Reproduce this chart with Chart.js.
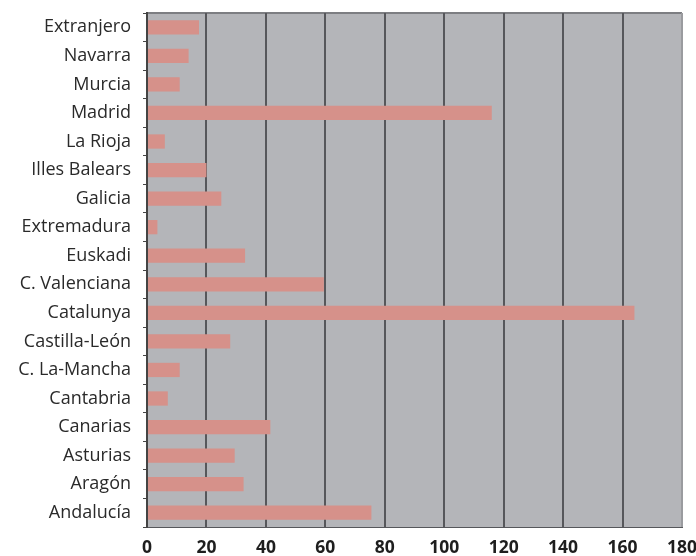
<!DOCTYPE html>
<html>
<head>
<meta charset="utf-8">
<script src="https://cdn.jsdelivr.net/npm/chart.js@4"></script>
<style>
html,body{margin:0;padding:0;background:#fff;}
#wrap{width:696px;height:556px;}
</style>
</head>
<body>
<div id="wrap"><canvas id="c" width="696" height="556"></canvas></div>
<script>
const categories = ["Extranjero","Navarra","Murcia","Madrid","La Rioja","Illes Balears","Galicia","Extremadura","Euskadi","C. Valenciana","Catalunya","Castilla-León","C. La-Mancha","Cantabria","Canarias","Asturias","Aragón","Andalucía"];
const values = [17.5,14,11,116,6,20,25,3.5,33,59.5,164,28,11,7,41.5,29.5,32.5,75.5];
const xMin = 0, xMax = 180, xStep = 20;

const bgPlugin = {
  id: 'plotBg',
  beforeDraw(chart) {
    const {ctx, chartArea: a} = chart;
    ctx.save();
    ctx.fillStyle = '#b4b5b9';
    ctx.fillRect(a.left, a.top, a.right - a.left, a.bottom - a.top);
    ctx.strokeStyle = '#7d7e82';
    ctx.lineWidth = 2;
    ctx.beginPath();
    ctx.moveTo(a.left, a.top);
    ctx.lineTo(a.right, a.top);
    ctx.stroke();
    ctx.restore();
  }
};

new Chart(document.getElementById('c'), {
  type: 'bar',
  data: {
    labels: categories,
    datasets: [{
      data: values,
      backgroundColor: '#d6918a',
      borderWidth: 0,
      barPercentage: 0.5,
      categoryPercentage: 1
    }]
  },
  plugins: [bgPlugin],
  options: {
    indexAxis: 'y',
    responsive: false,
    animation: false,
    devicePixelRatio: 1,
    layout: {padding: {top: 13, right: 14, left: 0, bottom: 0}},
    plugins: {legend: {display: false}, tooltip: {enabled: false}},
    scales: {
      x: {
        min: xMin, max: xMax,
        ticks: {stepSize: xStep, color: '#1e1e1e', padding: 11,
          font: {family: 'Open Sans', size: 17.5, weight: 'bold'}},
        grid: {
          color: (c) => c.index === 0 ? 'rgba(0,0,0,0)' : (c.tick && c.tick.value === xMax ? '#9a9b9f' : '#56575b'),
          lineWidth: 2, drawTicks: false
        },
        border: {display: true, color: '#56575b', width: 1},
        afterFit(s) { s.height = 29; s.paddingLeft = 0; s.paddingRight = 0; }
      },
      y: {
        ticks: {color: '#2a2a2a', padding: 12,
          font: {family: 'Open Sans', size: 18}},
        grid: {drawOnChartArea: false, drawTicks: true, tickLength: 4, color: '#444', lineWidth: 1},
        border: {display: true, color: '#444', width: 2},
        afterFit(s) { s.width = 147; s.paddingTop = 0; s.paddingBottom = 0; }
      }
    }
  }
});
</script>
</body>
</html>
